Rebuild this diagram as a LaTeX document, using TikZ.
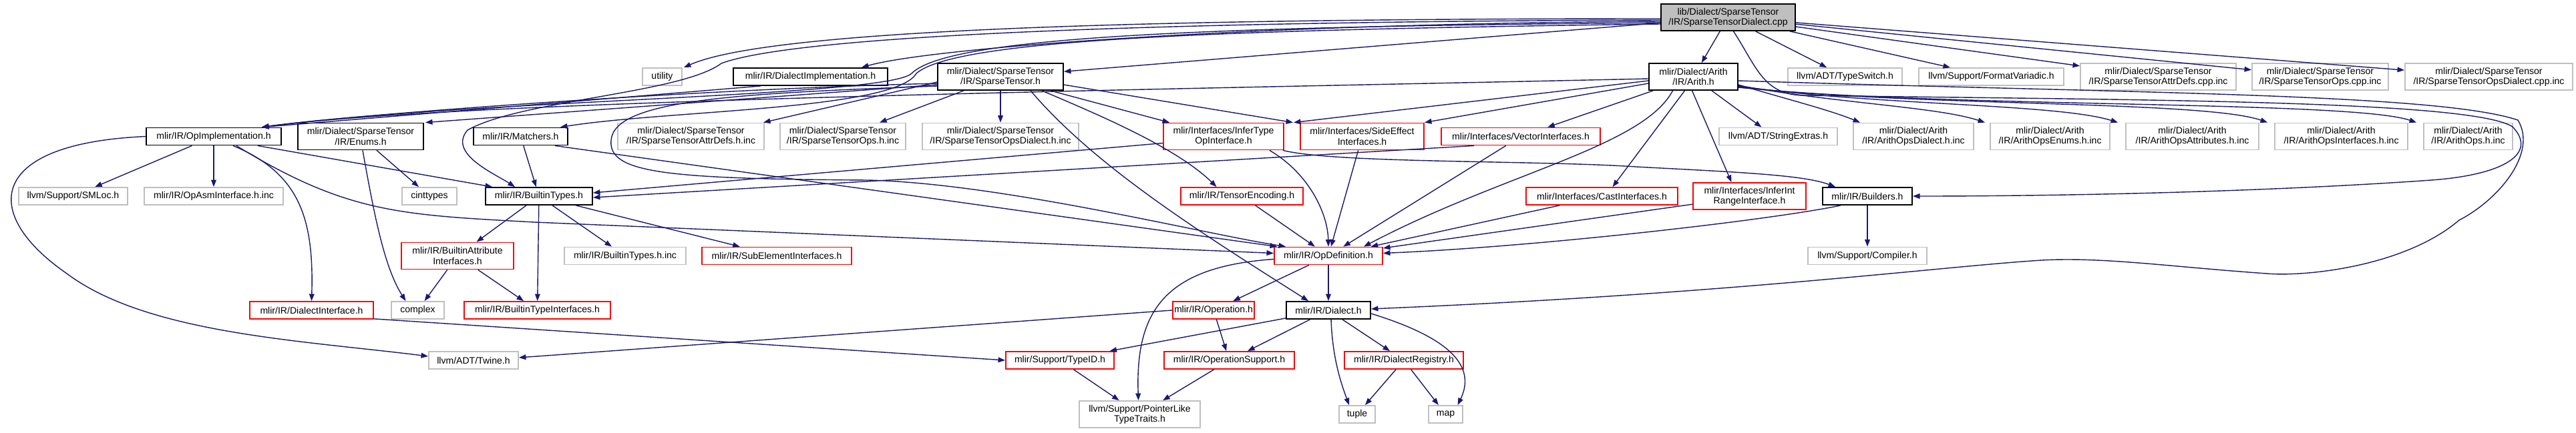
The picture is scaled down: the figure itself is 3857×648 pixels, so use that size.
\documentclass[tikz,border=0pt]{standalone}
\usepackage{fontspec}
\newfontfamily\dgf{Liberation Sans}
\newcommand\dgsize{\dgf\fontsize{4}{4.3}\selectfont}
\usetikzlibrary{arrows.meta,calc}
\definecolor{edgeblue}{HTML}{191970}
\definecolor{docgray}{HTML}{BFBFBF}
\definecolor{docred}{HTML}{FF0000}
\tikzset{
  nbase/.style={draw, fill=white, line width=0.5pt, inner sep=0pt, align=center, font=\dgsize, minimum height=0.26cm, text=black},
  tall/.style={minimum height=0.40cm},
  nblack/.style={nbase, draw=black},
  nred/.style={nbase, draw=docred},
  ngray/.style={nbase, draw=docgray},
  dep/.style={draw=edgeblue, line width=0.4pt, -{Triangle[length=3pt,width=2.2pt]}}
}
\begin{document}
\begin{tikzpicture}[x=0.01cm,y=-0.01cm]
\useasboundingbox (0,0) rectangle (3857,648);
% row 0/1
\node[nblack,tall,fill=docgray,minimum width=2.01cm] (root) at (2587.5,26) {lib/Dialect/SparseTensor\\/IR/SparseTensorDialect.cpp};
\node[ngray,minimum width=0.59cm] (utility) at (991.5,115) {utility};
\node[nblack,minimum width=2.31cm] (DialectImpl) at (1213.5,115) {mlir/IR/DialectImplementation.h};
\node[nblack,tall,minimum width=1.88cm] (ST) at (1498,115) {mlir/Dialect/SparseTensor\\/IR/SparseTensor.h};
\node[nblack,tall,minimum width=1.33cm] (ArithH) at (2535.5,115) {mlir/Dialect/Arith\\/IR/Arith.h};
\node[ngray,minimum width=1.71cm] (TypeSwitch) at (2762.5,115) {llvm/ADT/TypeSwitch.h};
\node[ngray,minimum width=2.17cm] (FormatVariadic) at (2981.5,115) {llvm/Support/FormatVariadic.h};
\node[ngray,tall,minimum width=2.33cm] (AttrDefsCpp) at (3231.5,115) {mlir/Dialect/SparseTensor\\/IR/SparseTensorAttrDefs.cpp.inc};
\node[ngray,tall,minimum width=2.04cm] (OpsCpp) at (3474,115) {mlir/Dialect/SparseTensor\\/IR/SparseTensorOps.cpp.inc};
\node[ngray,tall,minimum width=2.51cm] (OpsDialectCpp) at (3726.5,115) {mlir/Dialect/SparseTensor\\/IR/SparseTensorOpsDialect.cpp.inc};
% row 2
\node[nblack,minimum width=2.02cm] (OpImpl) at (320,204.5) {mlir/IR/OpImplementation.h};
\node[nblack,tall,minimum width=1.88cm] (Enums) at (540,204.5) {mlir/Dialect/SparseTensor\\/IR/Enums.h};
\node[nblack,minimum width=1.41cm] (Matchers) at (779.5,204.5) {mlir/IR/Matchers.h};
\node[ngray,tall,minimum width=2.19cm] (AttrDefsH) at (1034.5,204.5) {mlir/Dialect/SparseTensor\\/IR/SparseTensorAttrDefs.h.inc};
\node[ngray,tall,minimum width=1.88cm] (OpsH) at (1262,204.5) {mlir/Dialect/SparseTensor\\/IR/SparseTensorOps.h.inc};
\node[ngray,tall,minimum width=2.34cm] (OpsDialectH) at (1498,204.5) {mlir/Dialect/SparseTensor\\/IR/SparseTensorOpsDialect.h.inc};
\node[nred,tall,minimum width=1.80cm] (InferType) at (1832,204.5) {mlir/Interfaces/InferType\\OpInterface.h};
\node[nred,tall,minimum width=1.85cm] (SideEffect) at (2039.5,204.5) {mlir/Interfaces/SideEffect\\Interfaces.h};
\node[nred,minimum width=2.38cm] (VectorIf) at (2277,204.5) {mlir/Interfaces/VectorInterfaces.h};
\node[ngray,minimum width=1.77cm] (StringExtras) at (2662.5,204.5) {llvm/ADT/StringExtras.h};
\node[ngray,tall,minimum width=1.80cm] (ArithOpsDialect) at (2865,204.5) {mlir/Dialect/Arith\\/IR/ArithOpsDialect.h.inc};
\node[ngray,tall,minimum width=1.79cm] (ArithOpsEnums) at (3069.5,204.5) {mlir/Dialect/Arith\\/IR/ArithOpsEnums.h.inc};
\node[ngray,tall,minimum width=1.99cm] (ArithOpsAttributes) at (3282.5,204.5) {mlir/Dialect/Arith\\/IR/ArithOpsAttributes.h.inc};
\node[ngray,tall,minimum width=1.99cm] (ArithOpsInterfaces) at (3505.5,204.5) {mlir/Dialect/Arith\\/IR/ArithOpsInterfaces.h.inc};
\node[ngray,tall,minimum width=1.33cm] (ArithOps) at (3695.5,204.5) {mlir/Dialect/Arith\\/IR/ArithOps.h.inc};
% row 3
\node[ngray,minimum width=1.63cm] (SMLoc) at (109.5,294) {llvm/Support/SMLoc.h};
\node[ngray,minimum width=2.08cm] (OpAsm) at (320,294) {mlir/IR/OpAsmInterface.h.inc};
\node[ngray,minimum width=0.82cm] (cinttypes) at (643,294) {cinttypes};
\node[nblack,minimum width=1.60cm] (BuiltinTypes) at (807,294) {mlir/IR/BuiltinTypes.h};
\node[nred,minimum width=1.83cm] (TensorEnc) at (1859.5,294) {mlir/IR/TensorEncoding.h};
\node[nred,minimum width=2.27cm] (CastIf) at (2398.5,294) {mlir/Interfaces/CastInterfaces.h};
\node[nred,tall,minimum width=1.69cm] (InferInt) at (2619.5,294) {mlir/Interfaces/InferInt\\RangeInterface.h};
\node[nblack,minimum width=1.34cm] (Builders) at (2796,294) {mlir/IR/Builders.h};
% row 4
\node[nred,tall,minimum width=1.68cm] (BuiltinAttrIf) at (685,383.5) {mlir/IR/BuiltinAttribute\\Interfaces.h};
\node[ngray,minimum width=1.82cm] (BuiltinTypesInc) at (936,383.5) {mlir/IR/BuiltinTypes.h.inc};
\node[nred,minimum width=2.24cm] (SubElem) at (1163,383.5) {mlir/IR/SubElementInterfaces.h};
\node[nred,minimum width=1.62cm] (OpDef) at (1989,383.5) {mlir/IR/OpDefinition.h};
\node[ngray,minimum width=1.78cm] (Compiler) at (2796,383.5) {llvm/Support/Compiler.h};
% row 5
\node[nred,minimum width=1.85cm] (DialectIf) at (466.5,465) {mlir/IR/DialectInterface.h};
\node[ngray,minimum width=0.79cm] (complex) at (625.5,465) {complex};
\node[nred,minimum width=2.19cm] (BuiltinTypeIf) at (804.5,465) {mlir/IR/BuiltinTypeInterfaces.h};
\node[nred,minimum width=1.22cm] (Operation) at (1817,465) {mlir/IR/Operation.h};
\node[nblack,minimum width=1.26cm] (DialectH) at (1989,465) {mlir/IR/Dialect.h};
% row 6
\node[ngray,minimum width=1.34cm] (Twine) at (709,540) {llvm/ADT/Twine.h};
\node[nred,minimum width=1.62cm] (TypeID) at (1587,540) {mlir/Support/TypeID.h};
\node[nred,minimum width=1.95cm] (OpSupport) at (1840.5,540) {mlir/IR/OperationSupport.h};
\node[nred,minimum width=1.78cm] (DialectReg) at (2102,540) {mlir/IR/DialectRegistry.h};
% row 7
\node[ngray,tall,minimum width=1.81cm] (PointerLike) at (1706.5,621) {llvm/Support/PointerLike\\TypeTraits.h};
\node[ngray,minimum width=0.54cm] (tuple) at (2032,621) {tuple};
\node[ngray,minimum width=0.51cm] (map) at (2164.5,621) {map};

% ---- edges from root
\draw[dep] (root) -- (ArithH);
\draw[dep] (root) -- (TypeSwitch);
\draw[dep] (root) -- (FormatVariadic);
\draw[dep] (root) -- (AttrDefsCpp);
\draw[dep] (root) -- (OpsCpp);
\draw[dep] (root) -- (OpsDialectCpp);
\draw[dep] (root) -- (ST);
\draw[dep] ($(root.west)+(0,2)$) .. controls (1700,28) and (1150,45) .. ($(utility.north east)+(2,0)$);
\draw[dep] ($(root.west)+(0,4)$) .. controls (1800,32) and (1200,50) .. (1080,95) .. controls (1020,140) and (780,150) .. (700,195) .. controls (670,230) and (740,260) .. ($(BuiltinTypes.north)+(-36,0)$);
\draw[dep] ($(root.west)+(0,6)$) .. controls (1900,35) and (1400,70) .. ($(DialectImpl.north east)+(-40,0)$);
\draw[dep] ($(root.west)+(0,8)$) .. controls (1800,40) and (1420,55) .. (1365,110) .. controls (1330,145) and (700,150) .. ($(OpImpl.north east)+(-30,0)$);
\draw[dep] ($(root.west)+(0,10)$) .. controls (1800,45) and (1430,60) .. (1372,110) .. controls (1340,165) and (1000,165) .. ($(Matchers.north east)+(-12,0)$);
\draw[dep] ($(root.south)+(8,0)$) .. controls (2630,100) and (2640,142) .. (2700,143) .. controls (3200,150) and (3700,150) .. (3762,190) .. controls (3800,230) and (3750,262) .. (3640,270) .. controls (3400,287) and (3100,294) .. (Builders.east);

% ---- edges from SparseTensor.h
\draw[dep] ($(ST.west)+(0,10)$) .. controls (1000,135) and (500,175) .. ($(OpImpl.north east)+(-30,0)$);
\draw[dep] ($(ST.west)+(0,12)$) -- ($(Enums.north east)+(2,0)$);
\draw[dep] ($(ST.west)+(0,8)$) -- ($(AttrDefsH.north east)+(-2,0)$);
\draw[dep] (ST) -- (OpsH);
\draw[dep] (ST) -- (OpsDialectH);
\draw[dep] ($(ST.south)+(45,0)$) .. controls (1640,250) and (1800,350) .. ($(DialectH.north)+(-30,0)$);
\draw[dep] ($(ST.south)+(62,0)$) .. controls (1640,170) and (1760,220) .. ($(TensorEnc.north)+(-38,0)$);
\draw[dep] ($(ST.south east)+(-20,0)$) -- ($(InferType.north west)+(10,0)$);
\draw[dep] ($(ST.east)+(0,12)$) -- ($(SideEffect.north west)+(-10,0)$);
\draw[dep] ($(ST.west)+(0,14)$) .. controls (1100,140) and (920,150) .. (915,210) .. controls (910,260) and (1000,268) .. (1300,270) .. controls (1500,275) and (1800,350) .. ($(OpDef.north west)+(18,0)$);

% ---- DialectImplementation.h
\draw[dep] ($(DialectImpl.south west)+(42,0)$) -- ($(OpImpl.north east)+(-30,0)$);

% ---- Arith.h
\draw[dep] ($(ArithH.west)+(0,3)$) .. controls (1700,135) and (700,150) .. ($(OpImpl.north east)+(-30,0)$);
\draw[dep] ($(ArithH.west)+(0,6)$) -- ($(InferType.north east)+(14,0)$);
\draw[dep] ($(ArithH.west)+(0,10)$) -- (SideEffect.north east);
\draw[dep] (ArithH) -- (VectorIf);
\draw[dep] ($(ArithH.south)+(-31,0)$) .. controls (2460,220) and (2250,260) .. ($(OpDef.north east)+(-29,0)$);
\draw[dep] ($(ArithH.south)+(-13,0)$) -- ($(CastIf.north)+(16,0)$);
\draw[dep] ($(ArithH.south)+(-2,0)$) -- ($(InferInt.north)+(-27,0)$);
\draw[dep] ($(ArithH.south east)+(-40,0)$) -- ($(StringExtras.north)+(-25,0)$);
\draw[dep] ($(ArithH.east)+(0,12)$) .. controls (2680,150) and (2740,165) .. ($(ArithOpsDialect.north west)+(11,0)$);
\draw[dep] ($(ArithH.east)+(0,13)$) .. controls (2750,155) and (2900,160) .. ($(ArithOpsEnums.north west)+(-7,0)$);
\draw[dep] ($(ArithH.east)+(0,14)$) .. controls (2800,158) and (3080,155) .. ($(ArithOpsAttributes.north west)+(-11,0)$);
\draw[dep] ($(ArithH.east)+(0,15)$) .. controls (2850,160) and (3300,150) .. ($(ArithOpsInterfaces.north west)+(-10,0)$);
\draw[dep] ($(ArithH.east)+(0,16)$) .. controls (2900,162) and (3520,150) .. ($(ArithOps.north west)+(-10,0)$);
\draw[dep] ($(ArithH.east)+(0,6)$) .. controls (3200,140) and (3650,140) .. (3770,180) .. controls (3800,230) and (3740,300) .. (3682,330) .. controls (3600,400) and (3450,415) .. (3394,410) .. controls (3250,400) and (3150,385) .. (3057,390) .. controls (2900,400) and (2600,440) .. ($(DialectH.east)+(0,-2)$);

% ---- OpImplementation.h
\draw[dep] (OpImpl) -- (SMLoc);
\draw[dep] (OpImpl) -- (OpAsm);
\draw[dep] ($(OpImpl.south east)+(-36,0)$) -- ($(BuiltinTypes.north west)+(11,0)$);
\draw[dep] ($(OpImpl.south east)+(-73,0)$) .. controls (450,260) and (470,330) .. (DialectIf.north);
\draw[dep] ($(OpImpl.south east)+(-68,0)$) .. controls (520,320) and (600,322) .. (800,333) -- ($(OpDef.west)+(0,-4)$);
\draw[dep] (OpImpl.west) .. controls (-20,215) and (-30,320) .. (100,410) .. controls (220,500) and (450,510) .. ($(Twine.west)+(0,-6)$);

% ---- Enums.h
\draw[dep] (Enums) -- (cinttypes);
\draw[dep] ($(Enums.south)+(3,0)$) .. controls (560,320) and (575,400) .. ($(complex.north)+(-18,0)$);

% ---- Matchers.h
\draw[dep] (Matchers) -- (BuiltinTypes);
\draw[dep] ($(Matchers.south east)+(-20,0)$) -- ($(OpDef.north west)+(5,0)$);

% ---- BuiltinTypes.h
\draw[dep] (BuiltinTypes) -- (BuiltinAttrIf);
\draw[dep] (BuiltinTypes) -- (BuiltinTypesInc);
\draw[dep] (BuiltinTypes) -- (SubElem);
\draw[dep] (BuiltinTypes) -- (BuiltinTypeIf);
\draw[dep] (BuiltinAttrIf) -- (complex);
\draw[dep] (BuiltinAttrIf) -- (BuiltinTypeIf);

% ---- interfaces
\draw[dep] ($(InferType.west)+(0,10)$) -- ($(BuiltinTypes.east)+(0,-5)$);
\draw[dep] ($(VectorIf.south west)+(50,0)$) -- ($(BuiltinTypes.east)+(0,2)$);
\draw[dep] ($(InferType.south east)+(-22,0)$) .. controls (1960,260) and (1988,320) .. ($(OpDef.north)+(0,0)$);
\draw[dep] ($(InferType.south east)+(-2,0)$) .. controls (2000,245) and (2300,240) .. (2450,250) .. controls (2600,258) and (2700,262) .. ($(Builders.north west)+(20,0)$);
\draw[dep] (SideEffect) -- (OpDef);
\draw[dep] (VectorIf) -- (OpDef);
\draw[dep] (TensorEnc) -- (OpDef);
\draw[dep] (CastIf) -- (OpDef);
\draw[dep] (InferInt) -- (OpDef);
\draw[dep] ($(Builders.south west)+(28,0)$) .. controls (2650,330) and (2300,370) .. ($(OpDef.east)+(0,-4)$);
\draw[dep] (Builders) -- (Compiler);

% ---- lower part
\draw[dep] ($(DialectIf.south east)+(0,-1)$) -- (TypeID.west);
\draw[dep] (Operation.west) -- ($(Twine.east)+(0,-4)$);
\draw[dep] (OpDef) -- (Operation);
\draw[dep] (OpDef) -- (DialectH);
\draw[dep] ($(OpDef.west)+(0,5)$) .. controls (1740,400) and (1700,470) .. ($(PointerLike.north)+(-2,0)$);
\draw[dep] (Operation) -- (OpSupport);
\draw[dep] (DialectH) -- (TypeID);
\draw[dep] (DialectH) -- (OpSupport);
\draw[dep] (DialectH) -- (DialectReg);
\draw[dep] ($(DialectH.south)+(4,0)$) .. controls (1995,540) and (2010,580) .. ($(tuple.north)+(-12,0)$);
\draw[dep] ($(DialectH.east)+(0,5)$) .. controls (2150,500) and (2215,540) .. ($(map.north)+(18,0)$);
\draw[dep] (DialectReg) -- (tuple);
\draw[dep] (DialectReg) -- (map);
\draw[dep] (TypeID) -- (PointerLike);
\draw[dep] (OpSupport) -- (PointerLike);
\end{tikzpicture}
\end{document}
